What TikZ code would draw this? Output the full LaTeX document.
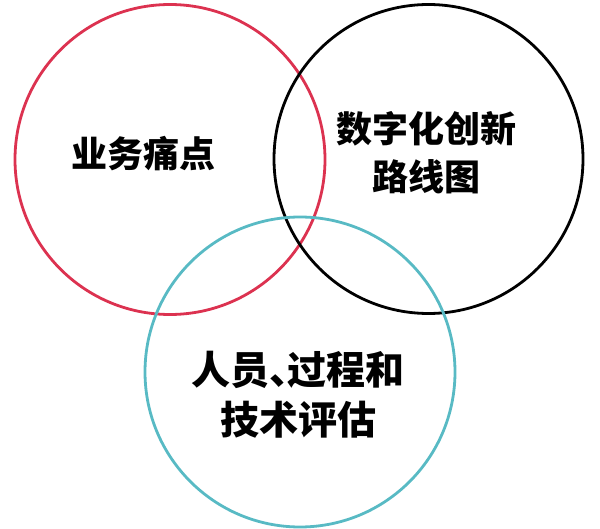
\documentclass[tikz,border=0pt]{standalone}
\usepackage{fontspec}
\setmainfont{Noto Sans CJK SC}[BoldFont={Noto Sans CJK SC Black}]
\definecolor{ringred}{RGB}{220,50,80}
\definecolor{ringteal}{RGB}{88,186,196}
\tikzset{
  ring/.style={circle, draw, line width=2.8pt, minimum size=#1, inner sep=0pt},
  lbl/.style={font=\fontsize{36pt}{48pt}\selectfont\bfseries, align=center, inner sep=0pt, text=black},
  biglbl/.style={lbl, font=\fontsize{39pt}{50pt}\selectfont\bfseries}
}
\begin{document}
\begin{tikzpicture}[x=1pt,y=-1pt]
\useasboundingbox (0,0) rectangle (600,529);
\node[ring=310pt, draw=ringred] (red) at (170,159.5) {};
\node[ring=309pt, draw=black] (blk) at (428.5,159) {};
\node[ring=310pt, draw=ringteal] (teal) at (300,372) {};
\node[lbl] (t1) at (143,154) {业务痛点};
\node[lbl] (t2) at (426,152.5) {数字化创新\\路线图};
\node[biglbl] (t3) at (298,394.5) {人员、\kern-0.55em过程和\\技术评估};
\end{tikzpicture}
\end{document}
